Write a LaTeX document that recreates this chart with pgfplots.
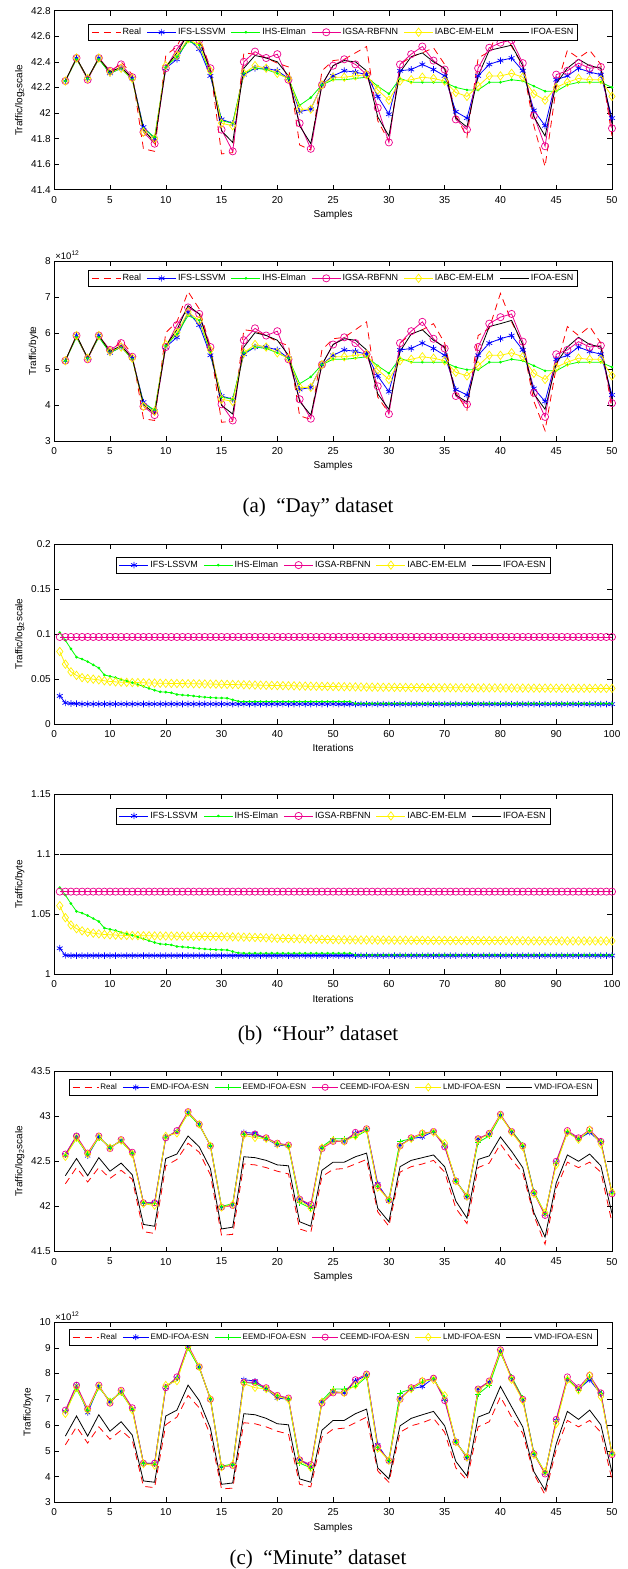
\documentclass[border=0pt]{standalone}
\usepackage{fontspec}
\setmainfont{Liberation Sans}
\newfontfamily\capfont{Liberation Serif}
\usepackage{pgfplots}
\pgfplotsset{compat=1.18}
\usepackage{pgfplotstable}

\pgfplotstableread{
n real ifs ihs igsa iabc ifoa
1 42.25 42.25 42.25 42.25 42.25 42.25
2 42.43 42.43 42.42 42.43 42.43 42.43
3 42.27 42.27 42.27 42.26 42.27 42.27
4 42.43 42.43 42.42 42.43 42.43 42.43
5 42.31 42.31 42.31 42.33 42.32 42.32
6 42.40 42.35 42.35 42.38 42.35 42.36
7 42.30 42.27 42.26 42.28 42.27 42.27
8 41.72 41.89 41.88 41.85 41.85 41.87
9 41.70 41.80 41.81 41.76 41.80 41.77
10 42.45 42.35 42.36 42.35 42.37 42.36
11 42.52 42.42 42.44 42.50 42.45 42.47
12 42.70 42.58 42.56 42.61 42.58 42.62
13 42.60 42.50 42.53 42.57 42.53 42.57
14 42.35 42.29 42.31 42.35 42.33 42.33
15 41.68 41.95 41.94 41.87 41.92 41.86
16 41.69 41.92 41.92 41.70 41.90 41.77
17 42.47 42.30 42.31 42.40 42.31 42.35
18 42.46 42.35 42.35 42.48 42.37 42.45
19 42.43 42.35 42.34 42.43 42.35 42.43
20 42.39 42.33 42.31 42.46 42.31 42.40
21 42.36 42.27 42.27 42.26 42.27 42.29
22 41.75 42.01 42.06 41.92 42.03 41.90
23 41.71 42.03 42.12 41.72 42.03 41.76
24 42.33 42.22 42.22 42.22 42.22 42.22
25 42.41 42.29 42.26 42.37 42.28 42.37
26 42.42 42.33 42.26 42.42 42.28 42.41
27 42.47 42.32 42.27 42.38 42.29 42.40
28 42.52 42.30 42.28 42.30 42.30 42.33
29 41.94 42.13 42.21 42.04 42.18 41.97
30 41.78 41.99 42.15 41.77 42.10 41.82
31 42.38 42.33 42.27 42.38 42.25 42.32
32 42.44 42.34 42.24 42.46 42.26 42.44
33 42.47 42.38 42.24 42.52 42.28 42.47
34 42.51 42.34 42.24 42.41 42.27 42.40
35 42.38 42.29 42.24 42.34 42.25 42.35
36 41.98 42.01 42.20 41.95 42.16 41.96
37 41.81 41.96 42.18 41.87 42.13 41.89
38 42.43 42.29 42.18 42.35 42.21 42.29
39 42.48 42.38 42.24 42.51 42.29 42.49
40 42.69 42.41 42.24 42.55 42.29 42.51
41 42.52 42.43 42.26 42.57 42.31 42.53
42 42.37 42.33 42.25 42.39 42.28 42.37
43 41.90 42.02 42.21 41.98 42.15 41.97
44 41.58 41.90 42.17 41.74 42.10 41.82
45 42.20 42.26 42.17 42.30 42.20 42.23
46 42.49 42.29 42.22 42.33 42.24 42.35
47 42.43 42.35 42.24 42.39 42.27 42.42
48 42.49 42.32 42.24 42.35 42.26 42.37
49 42.38 42.30 42.24 42.36 42.26 42.35
50 41.82 41.96 42.20 41.88 42.13 41.92
}\dA

\pgfplotstableread{
n real ifs ihs igsa iabc ifoa
1 5.23 5.23 5.23 5.23 5.23 5.23
2 5.93 5.93 5.88 5.93 5.93 5.93
3 5.30 5.30 5.30 5.27 5.30 5.30
4 5.93 5.93 5.88 5.93 5.93 5.93
5 5.45 5.45 5.45 5.53 5.49 5.49
6 5.80 5.61 5.61 5.72 5.61 5.65
7 5.41 5.30 5.27 5.34 5.30 5.30
8 3.62 4.08 4.05 3.96 3.96 4.02
9 3.57 3.83 3.86 3.72 3.83 3.75
10 6.01 5.61 5.65 5.61 5.68 5.65
11 6.31 5.88 5.97 6.22 6.01 6.09
12 7.15 6.58 6.48 6.71 6.58 6.76
13 6.67 6.22 6.35 6.53 6.35 6.53
14 5.61 5.38 5.45 5.61 5.53 5.53
15 3.52 4.25 4.22 4.02 4.16 3.99
16 3.55 4.16 4.16 3.57 4.10 3.75
17 6.09 5.41 5.45 5.80 5.45 5.61
18 6.05 5.61 5.61 6.13 5.68 6.01
19 5.93 5.61 5.57 5.93 5.61 5.93
20 5.76 5.53 5.45 6.05 5.45 5.80
21 5.65 5.30 5.30 5.27 5.30 5.38
22 3.70 4.43 4.59 4.16 4.49 4.10
23 3.60 4.49 4.78 3.62 4.49 3.72
24 5.53 5.12 5.12 5.12 5.12 5.12
25 5.84 5.38 5.27 5.68 5.34 5.68
26 5.88 5.53 5.27 5.88 5.34 5.84
27 6.09 5.49 5.30 5.72 5.38 5.80
28 6.31 5.41 5.34 5.41 5.41 5.53
29 4.22 4.81 5.09 4.52 4.98 4.31
30 3.78 4.37 4.88 3.75 4.71 3.88
31 5.72 5.53 5.30 5.72 5.23 5.49
32 5.97 5.57 5.19 6.05 5.27 5.97
33 6.09 5.72 5.19 6.31 5.34 6.09
34 6.26 5.57 5.19 5.84 5.30 5.80
35 5.72 5.38 5.19 5.57 5.23 5.61
36 4.34 4.43 5.05 4.25 4.91 4.28
37 3.86 4.28 4.98 4.02 4.81 4.08
38 5.93 5.38 4.98 5.61 5.09 5.38
39 6.13 5.72 5.19 6.26 5.38 6.18
40 7.10 5.84 5.19 6.44 5.38 6.26
41 6.31 5.93 5.27 6.53 5.45 6.35
42 5.68 5.53 5.23 5.76 5.34 5.68
43 4.10 4.46 5.09 4.34 4.88 4.31
44 3.29 4.10 4.95 3.67 4.71 3.88
45 5.05 5.27 4.95 5.41 5.05 5.16
46 6.18 5.38 5.12 5.53 5.19 5.61
47 5.93 5.61 5.19 5.76 5.30 5.88
48 6.18 5.49 5.19 5.61 5.27 5.68
49 5.72 5.41 5.19 5.65 5.27 5.61
50 3.88 4.28 5.05 4.05 4.81 4.16
}\dB

\pgfplotstableread{
n ifs ihs igsa iabc ifoa
1 0.0312 0.1015 0.0967 0.0805 0.139
2 0.0235 0.0930 0.0967 0.0665 0.139
3 0.0228 0.0835 0.0967 0.0580 0.139
4 0.0226 0.0743 0.0967 0.0540 0.139
5 0.0222 0.0721 0.0967 0.0515 0.139
6 0.0222 0.0693 0.0967 0.0505 0.139
7 0.0222 0.0658 0.0967 0.0498 0.139
8 0.0222 0.0622 0.0967 0.0490 0.139
9 0.0222 0.0545 0.0967 0.0480 0.139
10 0.0222 0.0530 0.0967 0.0473 0.139
11 0.0222 0.0516 0.0967 0.0468 0.139
12 0.0222 0.0495 0.0967 0.0465 0.139
13 0.0222 0.0478 0.0967 0.0463 0.139
14 0.0222 0.0460 0.0967 0.0461 0.139
15 0.0222 0.0438 0.0967 0.0460 0.139
16 0.0222 0.0417 0.0967 0.0458 0.139
17 0.0222 0.0396 0.0967 0.0456 0.139
18 0.0222 0.0375 0.0967 0.0455 0.139
19 0.0222 0.0358 0.0967 0.0453 0.139
20 0.0222 0.0354 0.0967 0.0452 0.139
21 0.0222 0.0347 0.0967 0.0451 0.139
22 0.0222 0.0328 0.0967 0.0450 0.139
23 0.0222 0.0322 0.0967 0.0449 0.139
24 0.0222 0.0318 0.0967 0.0448 0.139
25 0.0222 0.0311 0.0967 0.0447 0.139
26 0.0222 0.0304 0.0967 0.0446 0.139
27 0.0222 0.0298 0.0967 0.0445 0.139
28 0.0222 0.0294 0.0967 0.0444 0.139
29 0.0222 0.0290 0.0967 0.0443 0.139
30 0.0222 0.0289 0.0967 0.0442 0.139
31 0.0222 0.0287 0.0967 0.0440 0.139
32 0.0222 0.0269 0.0967 0.0439 0.139
33 0.0222 0.0252 0.0967 0.0437 0.139
34 0.0222 0.0249 0.0967 0.0436 0.139
35 0.0222 0.0249 0.0967 0.0435 0.139
36 0.0222 0.0249 0.0967 0.0433 0.139
37 0.0222 0.0249 0.0967 0.0432 0.139
38 0.0222 0.0249 0.0967 0.0430 0.139
39 0.0222 0.0249 0.0967 0.0429 0.139
40 0.0222 0.0249 0.0967 0.0427 0.139
41 0.0222 0.0249 0.0967 0.0426 0.139
42 0.0222 0.0249 0.0967 0.0425 0.139
43 0.0222 0.0249 0.0967 0.0424 0.139
44 0.0222 0.0249 0.0967 0.0422 0.139
45 0.0222 0.0249 0.0967 0.0421 0.139
46 0.0222 0.0249 0.0967 0.0420 0.139
47 0.0222 0.0249 0.0967 0.0419 0.139
48 0.0222 0.0249 0.0967 0.0418 0.139
49 0.0222 0.0249 0.0967 0.0417 0.139
50 0.0222 0.0249 0.0967 0.0416 0.139
51 0.0221 0.0249 0.0967 0.0415 0.139
52 0.0221 0.0249 0.0967 0.0414 0.139
53 0.0221 0.0249 0.0967 0.0413 0.139
54 0.0221 0.0228 0.0967 0.0412 0.139
55 0.0221 0.0228 0.0967 0.0411 0.139
56 0.0221 0.0228 0.0967 0.0410 0.139
57 0.0221 0.0228 0.0967 0.0410 0.139
58 0.0221 0.0228 0.0967 0.0409 0.139
59 0.0221 0.0228 0.0967 0.0408 0.139
60 0.0221 0.0228 0.0967 0.0408 0.139
61 0.0221 0.0228 0.0967 0.0407 0.139
62 0.0221 0.0228 0.0967 0.0406 0.139
63 0.0221 0.0228 0.0967 0.0406 0.139
64 0.0221 0.0228 0.0967 0.0405 0.139
65 0.0221 0.0228 0.0967 0.0405 0.139
66 0.0221 0.0228 0.0967 0.0404 0.139
67 0.0221 0.0228 0.0967 0.0404 0.139
68 0.0221 0.0228 0.0967 0.0404 0.139
69 0.0221 0.0228 0.0967 0.0403 0.139
70 0.0221 0.0228 0.0967 0.0403 0.139
71 0.0221 0.0228 0.0967 0.0403 0.139
72 0.0221 0.0228 0.0967 0.0402 0.139
73 0.0221 0.0228 0.0967 0.0402 0.139
74 0.0221 0.0228 0.0967 0.0402 0.139
75 0.0221 0.0228 0.0967 0.0402 0.139
76 0.0221 0.0228 0.0967 0.0401 0.139
77 0.0221 0.0228 0.0967 0.0401 0.139
78 0.0221 0.0228 0.0967 0.0401 0.139
79 0.0221 0.0228 0.0967 0.0401 0.139
80 0.0221 0.0228 0.0967 0.0400 0.139
81 0.0221 0.0228 0.0967 0.0400 0.139
82 0.0221 0.0228 0.0967 0.0400 0.139
83 0.0221 0.0228 0.0967 0.0399 0.139
84 0.0221 0.0228 0.0967 0.0399 0.139
85 0.0221 0.0228 0.0967 0.0399 0.139
86 0.0221 0.0228 0.0967 0.0399 0.139
87 0.0221 0.0228 0.0967 0.0398 0.139
88 0.0221 0.0228 0.0967 0.0398 0.139
89 0.0221 0.0228 0.0967 0.0398 0.139
90 0.0221 0.0228 0.0967 0.0398 0.139
91 0.0221 0.0228 0.0967 0.0397 0.139
92 0.0221 0.0228 0.0967 0.0397 0.139
93 0.0221 0.0228 0.0967 0.0397 0.139
94 0.0221 0.0228 0.0967 0.0397 0.139
95 0.0221 0.0228 0.0967 0.0397 0.139
96 0.0221 0.0228 0.0967 0.0396 0.139
97 0.0221 0.0228 0.0967 0.0396 0.139
98 0.0221 0.0228 0.0967 0.0396 0.139
99 0.0221 0.0228 0.0967 0.0396 0.139
100 0.0221 0.0228 0.0967 0.0396 0.139
}\dC

\pgfplotstableread{
n ifs ihs igsa iabc ifoa
1 1.0217 1.0722 1.0689 1.0572 1.1002
2 1.0158 1.0660 1.0689 1.0472 1.1002
3 1.0156 1.0590 1.0689 1.0411 1.1002
4 1.0156 1.0525 1.0689 1.0380 1.1002
5 1.0156 1.0510 1.0689 1.0362 1.1002
6 1.0156 1.0490 1.0689 1.0350 1.1002
7 1.0156 1.0465 1.0689 1.0343 1.1002
8 1.0156 1.0440 1.0689 1.0337 1.1002
9 1.0156 1.0385 1.0689 1.0332 1.1002
10 1.0156 1.0375 1.0689 1.0329 1.1002
11 1.0156 1.0365 1.0689 1.0327 1.1002
12 1.0156 1.0350 1.0689 1.0325 1.1002
13 1.0156 1.0338 1.0689 1.0324 1.1002
14 1.0156 1.0325 1.0689 1.0323 1.1002
15 1.0156 1.0310 1.0689 1.0322 1.1002
16 1.0156 1.0295 1.0689 1.0321 1.1002
17 1.0156 1.0280 1.0689 1.0321 1.1002
18 1.0156 1.0265 1.0689 1.0320 1.1002
19 1.0156 1.0253 1.0689 1.0320 1.1002
20 1.0156 1.0250 1.0689 1.0319 1.1002
21 1.0156 1.0245 1.0689 1.0319 1.1002
22 1.0156 1.0232 1.0689 1.0318 1.1002
23 1.0156 1.0228 1.0689 1.0318 1.1002
24 1.0156 1.0225 1.0689 1.0317 1.1002
25 1.0156 1.0220 1.0689 1.0317 1.1002
26 1.0156 1.0215 1.0689 1.0316 1.1002
27 1.0156 1.0211 1.0689 1.0316 1.1002
28 1.0156 1.0208 1.0689 1.0315 1.1002
29 1.0156 1.0205 1.0689 1.0315 1.1002
30 1.0156 1.0204 1.0689 1.0314 1.1002
31 1.0156 1.0203 1.0689 1.0313 1.1002
32 1.0156 1.0190 1.0689 1.0312 1.1002
33 1.0156 1.0178 1.0689 1.0311 1.1002
34 1.0156 1.0176 1.0689 1.0310 1.1002
35 1.0156 1.0176 1.0689 1.0309 1.1002
36 1.0156 1.0176 1.0689 1.0307 1.1002
37 1.0156 1.0176 1.0689 1.0306 1.1002
38 1.0156 1.0176 1.0689 1.0304 1.1002
39 1.0156 1.0176 1.0689 1.0302 1.1002
40 1.0156 1.0176 1.0689 1.0300 1.1002
41 1.0156 1.0176 1.0689 1.0299 1.1002
42 1.0156 1.0176 1.0689 1.0298 1.1002
43 1.0156 1.0176 1.0689 1.0297 1.1002
44 1.0156 1.0176 1.0689 1.0296 1.1002
45 1.0156 1.0176 1.0689 1.0295 1.1002
46 1.0156 1.0176 1.0689 1.0293 1.1002
47 1.0156 1.0176 1.0689 1.0292 1.1002
48 1.0156 1.0176 1.0689 1.0291 1.1002
49 1.0156 1.0176 1.0689 1.0290 1.1002
50 1.0156 1.0176 1.0689 1.0289 1.1002
51 1.0156 1.0176 1.0689 1.0288 1.1002
52 1.0156 1.0176 1.0689 1.0288 1.1002
53 1.0156 1.0176 1.0689 1.0287 1.1002
54 1.0156 1.0161 1.0689 1.0287 1.1002
55 1.0156 1.0161 1.0689 1.0286 1.1002
56 1.0156 1.0161 1.0689 1.0286 1.1002
57 1.0156 1.0161 1.0689 1.0286 1.1002
58 1.0156 1.0161 1.0689 1.0285 1.1002
59 1.0156 1.0161 1.0689 1.0285 1.1002
60 1.0156 1.0161 1.0689 1.0285 1.1002
61 1.0156 1.0161 1.0689 1.0284 1.1002
62 1.0156 1.0161 1.0689 1.0284 1.1002
63 1.0156 1.0161 1.0689 1.0284 1.1002
64 1.0156 1.0161 1.0689 1.0283 1.1002
65 1.0156 1.0161 1.0689 1.0283 1.1002
66 1.0156 1.0161 1.0689 1.0283 1.1002
67 1.0156 1.0161 1.0689 1.0282 1.1002
68 1.0156 1.0161 1.0689 1.0282 1.1002
69 1.0156 1.0161 1.0689 1.0282 1.1002
70 1.0156 1.0161 1.0689 1.0282 1.1002
71 1.0156 1.0161 1.0689 1.0281 1.1002
72 1.0156 1.0161 1.0689 1.0281 1.1002
73 1.0156 1.0161 1.0689 1.0281 1.1002
74 1.0156 1.0161 1.0689 1.0281 1.1002
75 1.0156 1.0161 1.0689 1.0281 1.1002
76 1.0156 1.0161 1.0689 1.0281 1.1002
77 1.0156 1.0161 1.0689 1.0281 1.1002
78 1.0156 1.0161 1.0689 1.0281 1.1002
79 1.0156 1.0161 1.0689 1.0281 1.1002
80 1.0156 1.0161 1.0689 1.0281 1.1002
81 1.0156 1.0161 1.0689 1.0280 1.1002
82 1.0156 1.0161 1.0689 1.0280 1.1002
83 1.0156 1.0161 1.0689 1.0280 1.1002
84 1.0156 1.0161 1.0689 1.0280 1.1002
85 1.0156 1.0161 1.0689 1.0279 1.1002
86 1.0156 1.0161 1.0689 1.0279 1.1002
87 1.0156 1.0161 1.0689 1.0279 1.1002
88 1.0156 1.0161 1.0689 1.0279 1.1002
89 1.0156 1.0161 1.0689 1.0279 1.1002
90 1.0156 1.0161 1.0689 1.0279 1.1002
91 1.0156 1.0161 1.0689 1.0278 1.1002
92 1.0156 1.0161 1.0689 1.0278 1.1002
93 1.0156 1.0161 1.0689 1.0278 1.1002
94 1.0156 1.0161 1.0689 1.0278 1.1002
95 1.0156 1.0161 1.0689 1.0278 1.1002
96 1.0156 1.0161 1.0689 1.0278 1.1002
97 1.0156 1.0161 1.0689 1.0278 1.1002
98 1.0156 1.0161 1.0689 1.0278 1.1002
99 1.0156 1.0161 1.0689 1.0278 1.1002
100 1.0156 1.0161 1.0689 1.0278 1.1002
}\dD

\pgfplotstableread{
n real emd eemd ceemd lmd vmd
1 42.25 42.57 42.57 42.58 42.55 42.34
2 42.43 42.78 42.75 42.78 42.76 42.53
3 42.27 42.56 42.58 42.59 42.58 42.34
4 42.43 42.77 42.76 42.78 42.77 42.54
5 42.31 42.65 42.66 42.64 42.65 42.39
6 42.40 42.73 42.72 42.74 42.73 42.48
7 42.30 42.59 42.59 42.60 42.58 42.35
8 41.72 42.04 42.04 42.04 42.03 41.80
9 41.70 42.04 42.03 42.04 42.01 41.78
10 42.45 42.76 42.77 42.76 42.78 42.53
11 42.52 42.83 42.83 42.84 42.81 42.58
12 42.70 43.04 43.03 43.05 43.04 42.78
13 42.60 42.91 42.90 42.91 42.91 42.66
14 42.35 42.67 42.68 42.67 42.67 42.42
15 41.68 41.99 42.00 41.99 41.99 41.75
16 41.69 42.02 42.03 42.01 42.02 41.77
17 42.47 42.82 42.80 42.80 42.79 42.55
18 42.46 42.81 42.79 42.80 42.76 42.54
19 42.43 42.75 42.75 42.76 42.75 42.51
20 42.39 42.68 42.70 42.70 42.69 42.46
21 42.36 42.67 42.67 42.68 42.67 42.45
22 41.75 42.08 42.04 42.08 42.07 41.83
23 41.71 42.00 41.98 42.02 41.98 41.78
24 42.33 42.65 42.66 42.64 42.65 42.40
25 42.41 42.73 42.75 42.72 42.73 42.49
26 42.42 42.72 42.75 42.72 42.72 42.49
27 42.47 42.81 42.77 42.82 42.78 42.55
28 42.52 42.85 42.84 42.86 42.85 42.59
29 41.94 42.25 42.22 42.23 42.21 41.98
30 41.78 42.06 42.08 42.07 42.07 41.83
31 42.38 42.68 42.72 42.67 42.67 42.44
32 42.44 42.75 42.75 42.76 42.75 42.51
33 42.47 42.77 42.80 42.81 42.81 42.54
34 42.51 42.83 42.83 42.83 42.82 42.57
35 42.38 42.67 42.68 42.66 42.70 42.44
36 41.98 42.29 42.28 42.28 42.28 42.06
37 41.81 42.10 42.12 42.11 42.11 41.87
38 42.43 42.75 42.71 42.75 42.74 42.52
39 42.48 42.80 42.78 42.81 42.80 42.56
40 42.69 43.01 43.00 43.02 43.01 42.77
41 42.52 42.83 42.84 42.83 42.82 42.61
42 42.37 42.67 42.68 42.67 42.66 42.43
43 41.90 42.15 42.16 42.15 42.14 41.93
44 41.58 41.91 41.92 41.90 41.93 41.66
45 42.20 42.49 42.48 42.50 42.46 42.26
46 42.49 42.82 42.83 42.84 42.82 42.57
47 42.43 42.75 42.74 42.76 42.74 42.50
48 42.49 42.82 42.84 42.85 42.85 42.58
49 42.38 42.71 42.72 42.72 42.69 42.45
50 41.82 42.15 42.15 42.14 42.16 41.92
}\dE

\pgfplotstableread{
n real emd eemd ceemd lmd vmd
1 5.23 6.53 6.53 6.58 6.44 5.57
2 5.93 7.55 7.40 7.55 7.45 6.35
3 5.30 6.48 6.58 6.62 6.58 5.57
4 5.93 7.50 7.45 7.55 7.50 6.40
5 5.45 6.90 6.95 6.85 6.90 5.76
6 5.80 7.30 7.25 7.35 7.30 6.13
7 5.41 6.62 6.62 6.67 6.58 5.61
8 3.62 4.52 4.52 4.52 4.49 3.83
9 3.57 4.52 4.49 4.52 4.43 3.78
10 6.01 7.45 7.50 7.45 7.55 6.35
11 6.31 7.82 7.82 7.87 7.71 6.58
12 7.15 9.04 8.98 9.11 9.04 7.55
13 6.67 8.26 8.21 8.26 8.26 6.95
14 5.61 7.00 7.05 7.00 7.00 5.88
15 3.52 4.37 4.40 4.37 4.37 3.70
16 3.55 4.46 4.49 4.43 4.46 3.75
17 6.09 7.76 7.66 7.66 7.61 6.44
18 6.05 7.71 7.61 7.66 7.45 6.40
19 5.93 7.40 7.40 7.45 7.40 6.26
20 5.76 7.05 7.15 7.15 7.10 6.05
21 5.65 7.00 7.00 7.05 7.00 6.01
22 3.70 4.65 4.52 4.65 4.62 3.91
23 3.60 4.40 4.34 4.46 4.34 3.78
24 5.53 6.90 6.95 6.85 6.90 5.80
25 5.84 7.30 7.40 7.25 7.30 6.18
26 5.88 7.25 7.40 7.25 7.25 6.18
27 6.09 7.71 7.50 7.76 7.55 6.44
28 6.31 7.93 7.87 7.98 7.93 6.62
29 4.22 5.23 5.12 5.16 5.09 4.34
30 3.78 4.59 4.65 4.62 4.62 3.91
31 5.72 7.05 7.25 7.00 7.00 5.97
32 5.97 7.40 7.40 7.45 7.40 6.26
33 6.09 7.50 7.66 7.71 7.71 6.40
34 6.26 7.82 7.82 7.82 7.76 6.53
35 5.72 7.00 7.05 6.95 7.15 5.97
36 4.34 5.38 5.34 5.34 5.34 4.59
37 3.86 4.71 4.78 4.75 4.75 4.02
38 5.93 7.40 7.20 7.40 7.35 6.31
39 6.13 7.66 7.55 7.71 7.66 6.48
40 7.10 8.86 8.80 8.92 8.86 7.50
41 6.31 7.82 7.87 7.82 7.76 6.71
42 5.68 7.00 7.05 7.00 6.95 5.93
43 4.10 4.88 4.91 4.88 4.85 4.19
44 3.29 4.13 4.16 4.10 4.19 3.47
45 5.05 6.18 6.13 6.22 6.05 5.27
46 6.18 7.76 7.82 7.87 7.76 6.53
47 5.93 7.40 7.35 7.45 7.35 6.22
48 6.18 7.76 7.87 7.93 7.93 6.58
49 5.72 7.20 7.25 7.25 7.10 6.01
50 3.88 4.88 4.88 4.85 4.91 4.16
}\dF

\pgfplotsset{
  base/.style={
    scale only axis, width=557.8pt, height=180pt,
    anchor=north west, clip=false,
    axis line style={line width=0.6pt},
    every tick/.style={line width=0.5pt, black},
    major tick length=5pt,
    tick align=inside, xtick pos=both, ytick pos=both,
    scaled ticks=false,
    ticklabel style={font=\fontsize{10}{12}\selectfont},
    xticklabel style={yshift=-3pt},
    label style={font=\fontsize{10}{12}\selectfont},
    /pgf/number format/assume math mode=true,
    /pgf/number format/fixed,
    /pgf/number format/precision=2,
    legend columns=6,
    legend cell align=left,
    legend style={font=\fontsize{9}{10}\selectfont, draw=black, line width=0.6pt,
      inner xsep=3pt, inner ysep=3pt,
      nodes={inner xsep=1.5pt, inner ysep=1pt},
      /tikz/every even column/.append style={column sep=4pt},
      anchor=north},
    every axis plot/.append style={line width=0.8pt},
    legend image code/.code={\draw[mark repeat=2,mark phase=2,##1] plot coordinates {(0pt,0pt) (14.5pt,0pt) (29pt,0pt)};},
  },
  small legend/.style={
    legend style={font=\fontsize{8}{9}\selectfont},
    legend image code/.code={\draw[mark repeat=2,mark phase=2,##1] plot coordinates {(0pt,0pt) (13pt,0pt) (26pt,0pt)};},
  },
  sreal/.style={red, dash pattern=on 7pt off 5pt, mark=none},
  sifs/.style={blue, mark=asterisk, mark size=3.3pt, mark options={solid, line width=0.7pt}},
  sihs/.style={green, mark=*, mark size=0.9pt, mark options={solid}},
  sigsa/.style={magenta, mark=o, mark size=3.6pt, mark options={solid, line width=0.7pt}},
  siabc/.style={yellow, mark=diamond, mark size=4.2pt, mark options={solid, line width=0.7pt}},
  sifoa/.style={black, mark=none},
  semd/.style={blue, mark=asterisk, mark size=3pt, mark options={solid, line width=0.7pt}},
  seemd/.style={green, mark=+, mark size=2.8pt, mark options={solid, line width=0.6pt}},
  sceemd/.style={magenta, mark=o, mark size=3.1pt, mark options={solid, line width=0.7pt}},
  slmd/.style={yellow, mark=diamond, mark size=3.8pt, mark options={solid, line width=0.7pt}},
}

\begin{document}
\begin{tikzpicture}
\path[use as bounding box] (0,0) rectangle (627pt,-1569pt);

% ---------- (a) Day, log2 ----------
\begin{axis}[base, at={(54.2pt,-10.7pt)}, height=179pt,
  xmin=0, xmax=50, ymin=41.4, ymax=42.8,
  xtick={0,5,10,15,20,25,30,35,40,45,50},
  ytick={41.4,41.6,41.8,42,42.2,42.4,42.6,42.8},
  xlabel={Samples}, ylabel={Traffic/log\textsubscript{2}scale},
  legend style={at={(0.5,0.926)}}]
\addplot[sreal] table[x=n,y=real]{\dA};
\addplot[sifs] table[x=n,y=ifs]{\dA};
\addplot[sihs] table[x=n,y=ihs]{\dA};
\addplot[sigsa] table[x=n,y=igsa]{\dA};
\addplot[siabc] table[x=n,y=iabc]{\dA};
\addplot[sifoa] table[x=n,y=ifoa]{\dA};
\legend{Real,IFS-LSSVM,IHS-Elman,IGSA-RBFNN,IABC-EM-ELM,IFOA-ESN}
\end{axis}

% ---------- (a) Day, bytes ----------
\begin{axis}[base, at={(54.2pt,-261pt)}, height=180pt,
  xmin=0, xmax=50, ymin=3, ymax=8,
  xtick={0,5,10,15,20,25,30,35,40,45,50},
  ytick={3,4,5,6,7,8},
  xlabel={Samples}, ylabel={Traffic/byte},
  legend style={at={(0.5,0.95)}}]
\addplot[sreal] table[x=n,y=real]{\dB};
\addplot[sifs] table[x=n,y=ifs]{\dB};
\addplot[sihs] table[x=n,y=ihs]{\dB};
\addplot[sigsa] table[x=n,y=igsa]{\dB};
\addplot[siabc] table[x=n,y=iabc]{\dB};
\addplot[sifoa] table[x=n,y=ifoa]{\dB};
\legend{Real,IFS-LSSVM,IHS-Elman,IGSA-RBFNN,IABC-EM-ELM,IFOA-ESN}
\node[anchor=south west, inner sep=1pt, font=\fontsize{9.5}{10}\selectfont] at (rel axis cs:0,1) {×10\textsuperscript{12}};
\end{axis}

\node[anchor=base, font=\capfont\fontsize{21}{24}\selectfont] at (318pt,-512pt) {(a)\hspace{0.5em}“Day” dataset};

% ---------- (b) Hour, log2 ----------
\begin{axis}[base, at={(54.2pt,-544pt)}, height=180pt,
  xmin=0, xmax=100, ymin=0, ymax=0.2,
  xtick={0,10,20,30,40,50,60,70,80,90,100},
  ytick={0,0.05,0.1,0.15,0.2},
  xlabel={Iterations}, ylabel={Traffic/log\textsubscript{2}scale},
  legend style={at={(0.5,0.929)}}]
\addplot[sifs] table[x=n,y=ifs]{\dC};
\addplot[sihs] table[x=n,y=ihs]{\dC};
\addplot[sigsa] table[x=n,y=igsa]{\dC};
\addplot[siabc] table[x=n,y=iabc]{\dC};
\addplot[sifoa] table[x=n,y=ifoa]{\dC};
\legend{IFS-LSSVM,IHS-Elman,IGSA-RBFNN,IABC-EM-ELM,IFOA-ESN}
\end{axis}

% ---------- (b) Hour, bytes ----------
\begin{axis}[base, at={(54.2pt,-794.3pt)}, height=180pt,
  xmin=0, xmax=100, ymin=1, ymax=1.15,
  xtick={0,10,20,30,40,50,60,70,80,90,100},
  ytick={1,1.05,1.1,1.15},
  xlabel={Iterations}, ylabel={Traffic/byte},
  legend style={at={(0.5,0.926)}}]
\addplot[sifs] table[x=n,y=ifs]{\dD};
\addplot[sihs] table[x=n,y=ihs]{\dD};
\addplot[sigsa] table[x=n,y=igsa]{\dD};
\addplot[siabc] table[x=n,y=iabc]{\dD};
\addplot[sifoa] table[x=n,y=ifoa]{\dD};
\legend{IFS-LSSVM,IHS-Elman,IGSA-RBFNN,IABC-EM-ELM,IFOA-ESN}
\end{axis}

\node[anchor=base, font=\capfont\fontsize{21}{24}\selectfont] at (318pt,-1040pt) {(b)\hspace{0.5em}“Hour” dataset};

% ---------- (c) Minute, log2 ----------
\begin{axis}[base, small legend, at={(54.2pt,-1071pt)}, height=180.5pt,
  xmin=0, xmax=50, ymin=41.5, ymax=43.5,
  xtick={0,5,10,15,20,25,30,35,40,45,50},
  ytick={41.5,42,42.5,43,43.5},
  xlabel={Samples}, ylabel={Traffic/log\textsubscript{2}scale},
  legend style={at={(0.5,0.954)}}]
\addplot[sreal] table[x=n,y=real]{\dE};
\addplot[semd] table[x=n,y=emd]{\dE};
\addplot[seemd] table[x=n,y=eemd]{\dE};
\addplot[sceemd] table[x=n,y=ceemd]{\dE};
\addplot[slmd] table[x=n,y=lmd]{\dE};
\addplot[sifoa] table[x=n,y=vmd]{\dE};
\legend{Real,EMD-IFOA-ESN,EEMD-IFOA-ESN,CEEMD-IFOA-ESN,LMD-IFOA-ESN,VMD-IFOA-ESN}
\end{axis}

% ---------- (c) Minute, bytes ----------
\begin{axis}[base, small legend, at={(54.2pt,-1322pt)}, height=180.3pt,
  xmin=0, xmax=50, ymin=3, ymax=10,
  xtick={0,5,10,15,20,25,30,35,40,45,50},
  ytick={3,4,5,6,7,8,9,10},
  xlabel={Samples}, ylabel={Traffic/byte},
  legend style={at={(0.5,0.96)}}]
\addplot[sreal] table[x=n,y=real]{\dF};
\addplot[semd] table[x=n,y=emd]{\dF};
\addplot[seemd] table[x=n,y=eemd]{\dF};
\addplot[sceemd] table[x=n,y=ceemd]{\dF};
\addplot[slmd] table[x=n,y=lmd]{\dF};
\addplot[sifoa] table[x=n,y=vmd]{\dF};
\legend{Real,EMD-IFOA-ESN,EEMD-IFOA-ESN,CEEMD-IFOA-ESN,LMD-IFOA-ESN,VMD-IFOA-ESN}
\node[anchor=south west, inner sep=1pt, font=\fontsize{9.5}{10}\selectfont] at (rel axis cs:0,1) {×10\textsuperscript{12}};
\end{axis}

\node[anchor=base, font=\capfont\fontsize{21}{24}\selectfont] at (318pt,-1564.5pt) {(c)\hspace{0.5em}“Minute” dataset};
\end{tikzpicture}
\end{document}
